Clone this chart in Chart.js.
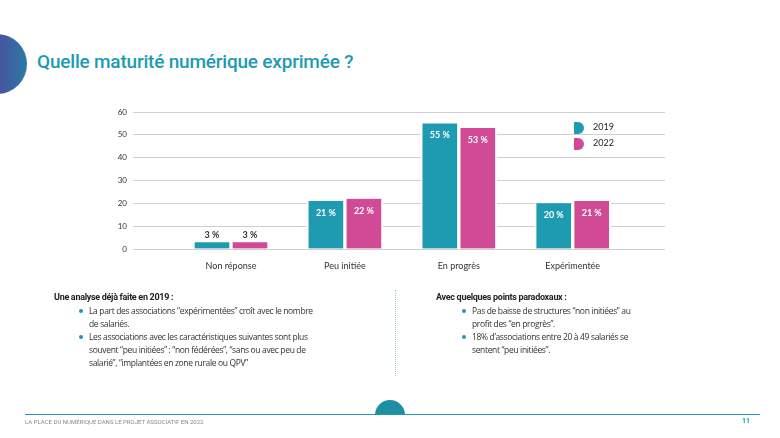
<!DOCTYPE html>
<html><head><meta charset="utf-8">
<script src="https://cdn.jsdelivr.net/npm/chart.js@4"></script>
<style>
body{margin:0;width:780px;height:438px;position:relative;overflow:hidden;background:#fff;font-family:"Open Sans",sans-serif;color:#222}
#c{position:absolute;left:0;top:0}
.t{position:absolute}
h1{position:absolute;left:37px;top:50px;margin:0;font:500 19px Roboto,sans-serif;color:#1e9bb0;letter-spacing:-0.2px}
ul{margin:2px 0 0 0;padding-left:0;list-style:none}
li{position:relative;padding-left:10px;font:8.5px/13px "Open Sans",sans-serif;letter-spacing:-0.35px;color:#333}
li:before{content:"";position:absolute;left:0;top:5px;width:4px;height:4px;border-radius:50%;background:#1e9bb0}
.hd{font:bold 9px Roboto,sans-serif;letter-spacing:-0.3px}
</style></head><body>
<div class="t" style="left:-33px;top:34px;width:60px;height:60px;border-radius:50%;background:linear-gradient(90deg,#6a2a8e,#2a7aa8)"></div>
<h1>Quelle maturité numérique exprimée ?</h1>
<canvas id="c" width="780" height="438"></canvas>
<div class="t" style="left:574px;top:119px;font:9px Lato,sans-serif;line-height:16px">
 <div><span style="display:inline-block;width:10px;height:12px;background:#1e9bb0;border-radius:0 6px 6px 0;vertical-align:middle;margin-right:9px"></span>2019</div>
 <div><span style="display:inline-block;width:10px;height:12px;background:#d04a96;border-radius:0 6px 6px 0;vertical-align:middle;margin-right:9px"></span>2022</div>
</div>
<div class="t" style="left:54px;top:292px;width:300px"><div class="hd">Une analyse déjà faite en 2019 :</div>
<ul style="margin-left:25px;width:240px"><li>La part des associations “expérimentées” croît avec le nombre de salariés.</li>
<li>Les associations avec les caractéristiques suivantes sont plus souvent “peu initiées” : “non fédérées”, “sans ou avec peu de salarié”, “implantées en zone rurale ou QPV”</li></ul></div>
<div class="t" style="left:395px;top:290px;height:86px;border-left:1px dotted #9cc"></div>
<div class="t" style="left:436px;top:292px;width:230px"><div class="hd">Avec quelques points paradoxaux :</div>
<ul style="margin-left:26px;width:190px"><li>Pas de baisse de structures “non initiées” au profit des “en progrès”.</li>
<li>18% d’associations entre 20 à 49 salariés se sentent “peu initiées”.</li></ul></div>
<div class="t" style="left:375px;top:400px;width:30px;height:30px;border-radius:50%;background:#1e8fa0;clip-path:inset(0 0 15px 0)"></div>
<div class="t" style="left:25px;top:414px;width:735px;border-top:1px solid #1e9bb0"></div>
<div class="t" style="left:25px;top:418px;font:6px Roboto,sans-serif;color:#888">LA PLACE DU NUMÉRIQUE DANS LE PROJET ASSOCIATIF EN 2022</div>
<div class="t" style="left:742px;top:417px;font:bold 7px Roboto,sans-serif;color:#1e9bb0">11</div>
<script>
const categories = ['Non réponse', 'Peu initiée', 'En progrès', 'Expérimentée'];
const values2019 = [3, 21, 55, 20];
const values2022 = [3, 22, 53, 21];
const yTicks = [0, 10, 20, 30, 40, 50, 60];

const pts = arr => arr.map((v, i) => ({ x: i, y: v }));

// Value labels: white inside the bar, dark above small bars
const labelPlugin = {
    id: 'labels',
    afterDatasetsDraw(chart) {
        const ctx = chart.ctx;
        ctx.save();
        ctx.font = 'bold 9px Lato, sans-serif';
        ctx.textAlign = 'center';
        chart.data.datasets.forEach((ds, di) => {
            chart.getDatasetMeta(di).data.forEach((bar, i) => {
                const v = ds.data[i].y;
                const small = v < 10;
                ctx.fillStyle = small ? '#333' : '#fff';
                ctx.fillText(v + ' %', bar.x, small ? bar.y - 4 : bar.y + 15);
            });
        });
        ctx.restore();
    }
};

new Chart(document.getElementById('c'), {
    type: 'bar',
    data: {
        datasets: [
            { label: '2019', data: pts(values2019), backgroundColor: '#1e9bb0' },
            { label: '2022', data: pts(values2022), backgroundColor: '#d04a96' }
        ].map(d => Object.assign(d, {
            barThickness: 38, borderColor: '#fff',
            borderWidth: { left: 2, right: 2, top: 0, bottom: 0 }, borderSkipped: false
        }))
    },
    options: {
        responsive: false,
        animation: false,
        layout: { padding: { left: 100, right: 115, top: 112, bottom: 163 } },
        plugins: { legend: { display: false }, tooltip: { enabled: false } },
        scales: {
            x: {
                type: 'linear', min: -0.79, max: 3.81, offset: false,
                grid: { display: false }, border: { display: false },
                afterBuildTicks: s => { s.ticks = categories.map((c, i) => ({ value: i })); },
                afterFit: s => { s.height = 26; },
                ticks: { callback: v => categories[v], color: '#333', font: { size: 9, family: 'Lato' }, padding: 4, maxRotation: 0 }
            },
            y: {
                min: 0, max: 60,
                afterBuildTicks: s => { s.ticks = yTicks.map(v => ({ value: v })); },
                afterFit: s => { s.width = 41; },
                grid: { color: '#cfcfcf' }, border: { display: false },
                ticks: { color: '#333', font: { size: 8, family: 'Lato' }, padding: 6 }
            }
        }
    },
    plugins: [labelPlugin]
});
</script>
</body></html>
